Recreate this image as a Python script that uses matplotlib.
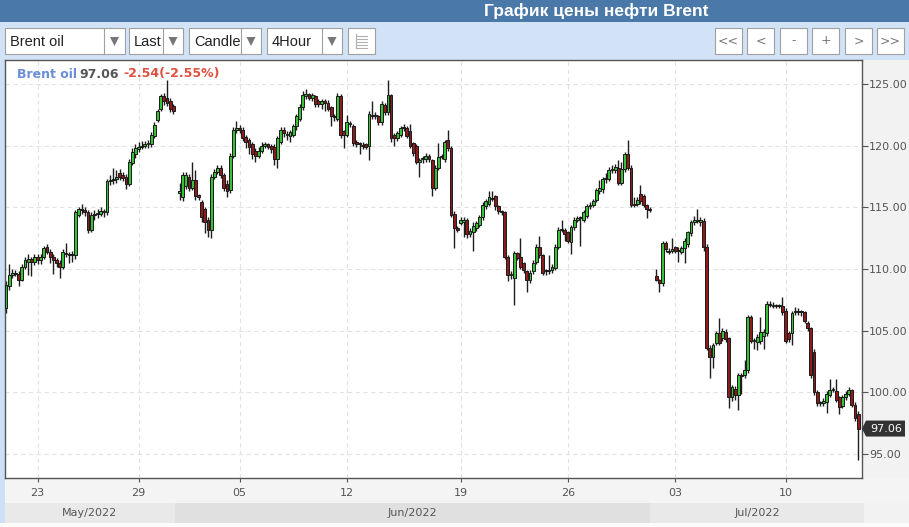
import numpy as np
import matplotlib
matplotlib.use("Agg")
import matplotlib.pyplot as plt
from matplotlib.patches import Rectangle, Polygon

W, H = 909, 527
nan = float('nan')

# ---------------- data (4-hour candles, Brent oil) ----------------
# part 1: 20 May - 31 May
p1_open = [106.8,108.6,109.5,109.7,109.6,109.1,110.2,110.6,110.8,110.6,111.0,110.7,111.0,111.8,111.4,111.0,110.7,110.5,
           110.2,111.3,111.2,111.1,111.1,114.4,114.8,114.8,114.6,113.2,114.4,114.5,114.5,114.6,114.6,117.1,117.2,117.3,
           117.8,117.6,117.5,116.9,118.6,119.3,119.7,119.9,120.0,120.1,120.1,120.8,122.1,123.0,124.0,123.9,123.6,123.2]
p1_high = [109.0,110.4,110.0,109.9,109.8,110.4,111.0,111.2,111.0,111.2,111.2,111.2,111.9,112.0,111.6,111.2,110.9,110.7,
           111.6,112.1,111.4,111.5,114.8,115.0,115.3,115.0,114.8,114.6,114.8,114.9,115.0,114.9,117.3,117.6,118.2,118.0,
           118.1,117.9,117.7,118.9,119.8,120.1,120.3,120.4,120.4,120.5,121.1,121.9,123.0,124.2,124.3,125.3,123.9,123.4]
p1_low = [106.4,108.3,109.3,109.4,108.6,109.0,110.0,109.5,109.4,110.3,110.4,110.4,110.8,111.2,110.5,109.6,110.2,109.3,
          110.0,111.0,110.5,110.6,110.8,114.2,114.5,114.3,112.9,113.0,114.0,114.1,114.3,114.2,114.4,116.8,116.9,117.0,
          117.2,117.1,116.5,116.7,118.4,119.0,119.5,119.7,119.8,119.8,119.9,120.6,121.9,122.8,123.3,123.2,122.7,122.6]
p1_close = [108.7,109.5,109.7,109.6,109.1,110.2,110.7,110.8,110.6,111.0,110.7,111.0,111.7,111.4,111.0,110.7,110.5,110.2,
            111.4,111.2,111.1,111.2,114.6,114.9,114.8,114.6,113.2,114.4,114.5,114.5,114.7,114.6,117.1,117.2,117.3,117.5,
            117.5,117.4,116.9,118.7,119.5,119.8,119.9,120.0,120.1,120.1,120.9,121.7,122.8,124.0,123.6,123.5,123.0,122.8]

# part 2: 1 Jun - 1 Jul
p2_open = [116.2,115.8,116.7,117.5,116.6,117.2,116.0,115.4,114.9,114.0,113.2,117.5,117.9,118.2,117.6,116.9,116.4,119.2,
           121.3,121.4,121.3,120.7,120.5,120.1,119.6,119.2,119.6,120.0,120.1,120.0,119.9,118.9,120.3,121.3,120.9,120.8,
           120.9,121.6,122.2,123.1,124.0,124.2,123.9,124.0,123.6,123.4,123.6,123.5,123.1,122.4,122.2,124.0,121.2,120.9,
           121.8,121.6,120.3,120.1,120.0,120.1,120.0,122.4,122.5,122.4,121.9,123.3,122.7,124.1,120.9,120.6,120.9,121.4,
           121.4,121.2,120.2,120.0,118.7,118.9,118.9,119.2,118.8,116.6,118.2,119.1,118.9,120.5,119.8,114.5,113.3,113.7,
           113.8,114.0,112.8,113.0,113.3,113.6,114.2,115.1,115.3,115.7,115.9,115.1,114.7,114.6,111.0,109.5,109.3,111.3,
           111.0,110.5,109.8,109.1,109.8,110.6,111.8,111.1,109.8,109.8,109.9,110.1,111.8,113.2,113.2,113.0,112.2,113.4,
           114.0,114.1,114.0,114.3,115.1,115.2,115.6,116.3,116.5,117.3,117.3,118.0,118.0,118.2,117.0,118.1,119.3,118.2,
           115.2,115.3,116.1,115.9,115.2,114.9]
p2_high = [117.0,117.9,117.9,117.7,118.7,118.0,116.1,115.6,115.0,114.2,117.7,118.1,118.4,118.4,117.8,117.2,119.4,121.5,
           122.0,121.7,121.5,120.9,120.6,120.3,119.8,119.9,120.3,120.3,120.2,120.1,120.1,120.8,121.5,121.5,121.2,121.3,
           121.8,122.6,123.4,124.4,124.6,124.3,124.3,124.1,123.8,123.8,123.8,123.7,123.2,122.6,124.3,124.2,121.3,122.5,
           122.0,121.8,120.5,120.3,120.3,120.2,122.8,123.6,122.7,122.5,123.6,123.5,125.3,124.2,121.0,121.2,121.6,121.8,
           121.6,121.8,120.3,120.1,119.0,119.2,119.4,119.3,118.9,118.4,120.2,119.3,120.5,121.3,120.0,114.7,113.5,114.2,
           114.2,114.1,113.3,113.8,113.9,114.4,115.4,115.7,116.3,116.3,116.0,115.2,114.8,114.7,111.1,109.8,111.5,111.4,
           112.5,110.6,109.9,109.9,110.7,112.0,112.7,111.2,110.0,111.1,110.4,112.0,113.4,114.0,113.3,113.1,113.6,114.2,
           114.3,114.3,114.8,115.3,115.4,115.7,116.6,117.2,117.5,117.8,118.3,118.4,118.5,118.8,118.7,119.5,120.5,118.4,
           115.8,115.8,116.8,116.1,115.3,115.0]
p2_low = [115.6,115.5,116.5,116.3,116.4,115.6,115.6,113.8,112.9,112.6,112.5,117.3,117.7,117.4,116.3,115.8,116.2,119.0,
          121.0,121.0,120.4,119.8,119.3,118.9,118.7,119.0,119.4,119.8,119.7,119.4,118.4,118.2,120.1,120.7,120.5,120.3,
          120.7,121.3,122.0,122.9,123.8,123.7,123.6,123.1,123.1,123.0,122.8,122.8,121.6,122.0,122.0,120.6,119.8,120.7,
          121.5,120.0,119.9,119.3,119.7,119.7,118.8,122.2,122.2,121.7,121.7,122.5,122.5,120.3,120.0,120.4,120.7,121.2,
          120.6,119.8,119.2,118.5,117.5,118.6,118.7,118.7,115.9,116.4,118.0,118.9,118.7,119.6,114.2,111.7,113.0,113.6,
          112.6,112.5,112.6,111.5,113.1,113.4,114.0,114.9,115.1,115.5,114.8,114.5,114.4,110.8,109.0,109.2,107.1,110.7,
          110.0,109.7,108.1,108.9,109.6,110.4,110.9,109.5,109.5,109.6,109.7,109.9,111.6,113.0,112.3,112.1,111.2,113.2,
          113.8,111.9,113.8,114.1,114.9,115.0,115.4,116.1,116.2,117.0,117.1,117.8,117.8,116.8,116.8,117.9,118.0,115.0,
          115.0,115.1,115.3,115.0,114.1,114.6]
p2_close = [116.3,117.6,117.6,116.6,117.2,115.9,115.8,114.2,113.8,113.2,117.5,117.9,118.2,117.6,116.6,116.3,119.2,121.3,
            121.4,121.3,120.6,120.3,119.9,119.3,119.2,119.6,120.0,120.1,119.9,119.7,118.9,120.6,121.3,121.0,120.9,121.1,
            121.6,122.4,123.1,124.1,124.2,123.9,124.1,123.4,123.4,123.6,123.5,123.0,122.4,122.3,124.0,120.9,120.9,121.9,
            121.8,120.2,120.1,120.1,120.0,119.9,122.6,122.5,122.4,121.9,123.4,122.7,124.1,120.6,120.6,121.0,121.4,121.4,
            120.8,120.0,119.4,118.7,118.8,119.0,119.2,118.9,116.6,118.2,119.1,119.1,120.3,119.8,114.4,113.3,113.2,114.0,
            114.0,112.8,113.1,113.5,113.7,114.2,115.2,115.5,115.8,115.7,115.1,114.7,114.6,111.0,109.5,109.5,111.3,110.9,
            110.2,109.9,109.1,109.7,110.5,111.8,111.1,109.7,109.8,109.8,110.2,111.8,113.2,113.2,112.8,112.3,113.4,114.0,
            114.1,114.1,114.6,115.1,115.2,115.5,116.4,116.6,117.3,117.3,118.0,118.1,118.3,117.0,118.1,119.3,118.2,115.2,
            115.3,115.6,115.5,115.2,114.9,114.8]

# part 3: 4 Jul - 15 Jul
p3_open = [109.4,109.1,108.9,112.1,111.5,111.5,111.8,111.5,111.4,111.7,112.0,112.9,113.8,114.0,113.8,113.9,111.8,103.6,
           102.9,104.0,104.8,104.4,104.9,104.4,99.6,100.3,99.8,101.4,101.4,101.8,106.1,104.2,104.1,104.2,104.6,104.8,
           107.2,107.1,107.0,107.0,107.0,106.6,104.8,104.8,106.5,106.6,106.5,106.5,105.6,105.2,103.3,100.0,99.1,99.1,
           99.2,99.8,100.2,100.1,99.6,98.9,99.6,99.9,100.2,99.0,98.2]
p3_high = [110.0,109.2,112.3,112.3,111.7,112.5,111.9,111.8,111.9,112.5,113.1,114.0,114.3,114.9,114.2,114.1,112.0,103.8,
           104.0,105.0,106.0,105.2,105.1,104.5,100.6,100.5,101.6,101.6,102.6,106.3,106.3,104.4,104.7,106.1,105.1,107.4,
           107.4,107.3,107.2,107.2,107.7,106.8,105.0,106.6,106.9,106.8,106.7,106.6,105.8,105.3,103.5,100.2,99.3,99.5,
           100.1,101.1,100.4,101.1,99.7,99.8,100.1,100.4,100.3,99.2,98.5]
p3_low = [109.0,108.1,108.6,111.4,111.2,111.3,111.3,110.6,111.2,110.5,111.8,112.7,113.6,113.7,113.5,111.5,103.4,101.2,
          102.0,103.8,103.8,104.2,104.1,98.7,99.3,99.4,98.6,99.9,101.2,101.6,104.0,103.5,103.4,103.9,103.5,104.6,
          106.9,106.8,106.8,106.8,106.3,104.0,104.1,103.8,106.3,106.3,106.2,105.6,105.0,101.2,99.8,98.9,98.9,98.9,
          98.3,99.6,100.0,99.2,98.2,98.7,99.4,99.7,98.8,97.7,94.5]
p3_close = [109.1,108.9,112.1,111.6,111.4,111.6,111.5,111.5,111.7,112.3,113.0,113.8,114.0,113.9,114.0,111.8,103.6,102.9,
            103.8,104.8,104.0,105.0,104.3,99.6,100.4,99.8,101.4,101.3,101.8,106.1,104.2,104.2,104.5,104.9,104.9,107.2,
            107.1,107.0,107.0,107.0,106.5,104.2,104.3,106.4,106.6,106.5,106.5,105.8,105.2,101.4,100.0,99.1,99.1,99.3,
            99.9,100.2,100.2,99.4,98.8,99.6,99.9,100.2,99.0,97.9,97.06]

# candle slots with no data (market breaks) sit between the parts
opens = p1_open + [nan] + p2_open + [nan] + p3_open
highs = p1_high + [nan] + p2_high + [nan] + p3_high
lows = p1_low + [nan] + p2_low + [nan] + p3_low
closes = p1_close + [nan] + p2_close + [nan] + p3_close

day_ticks = [10, 42, 74, 108, 144, 178, 212, 247]
day_labels = ['23', '29', '05', '12', '19', '26', '03', '10']
months = ['May/2022', 'Jun/2022', 'Jul/2022']
month_edges = [-0.3, 53.5, 204.0, 271.8]
price_ticks = [95, 100, 105, 110, 115, 120, 125]
last_price = 97.06
change = -2.54
change_pct = -2.55

# ---------------- figure ----------------
fig = plt.figure(figsize=(W / 100, H / 100), dpi=100)
fig.patch.set_facecolor('#f2f2f2')


def fx(x):
    return x / W


def fy(y):
    return 1 - y / H


def prect(x0, y0, x1, y1, z=-5, **kw):
    r = Rectangle((fx(x0), fy(y1)), (x1 - x0) / W, (y1 - y0) / H,
                  transform=fig.transFigure, zorder=z, **kw)
    fig.add_artist(r)
    return r


# backgrounds
prect(0, 0, W, 22, facecolor='#4a78a8', edgecolor='none')
prect(0, 22, W, 60, facecolor='#d2e3f7', edgecolor='none')
prect(0, 60, 5, 523, facecolor='#cde0f5', edgecolor='none')
prect(5, 478, W, 503, facecolor='#f4f4f4', edgecolor='none')
prect(0, 523, W, H, facecolor='#fbfbfb', edgecolor='none')

fig.text(fx(596), fy(11), 'График цены нефти Brent', color='white', fontsize=12.5,
         fontweight='bold', family='Liberation Sans', ha='center', va='center')

# toolbar dropdowns
dropdowns = [('Brent oil', 5, 104, 125), ('Last', 129, 163, 183), ('Candle', 189, 241, 261), ('4Hour', 267, 322, 342)]
for label, x0, xd, x1 in dropdowns:
    prect(x0, 28, x1, 54, z=2, facecolor='white', edgecolor='#a0a0a0', lw=0.8)
    fig.add_artist(plt.Line2D([fx(xd), fx(xd)], [fy(28), fy(54)], transform=fig.transFigure,
                              color='#a0a0a0', lw=0.8, zorder=3))
    fig.text(fx(x0 + 5), fy(41.5), label, fontsize=10.5, family='Liberation Sans',
             color='#222222', ha='left', va='center', zorder=4)
    ax_ = (xd + x1) / 2
    fig.add_artist(Polygon([[fx(ax_ - 4.5), fy(37)], [fx(ax_ + 4.5), fy(37)], [fx(ax_), fy(46)]],
                           closed=True, transform=fig.transFigure, facecolor='#777777',
                           edgecolor='none', zorder=4))
prect(348, 28, 375, 54, z=2, facecolor='white', edgecolor='#a0a0a0', lw=0.8)
for yy in (36, 39, 42, 45, 48):
    fig.add_artist(plt.Line2D([fx(356), fx(367)], [fy(yy), fy(yy)], transform=fig.transFigure,
                              color='#b0b0b0', lw=0.8, zorder=3))
fig.add_artist(plt.Line2D([fx(356), fx(356)], [fy(34), fy(48)], transform=fig.transFigure,
                          color='#b0b0b0', lw=0.8, zorder=3))

buttons = [('<<', 715, 742), ('<', 747, 774), ('-', 780, 807), ('+', 812, 839), ('>', 845, 872), ('>>', 877, 904)]
for lab, x0, x1 in buttons:
    prect(x0, 28, x1, 54, z=2, facecolor='white', edgecolor='#a0a0a0', lw=0.8)
    fig.text(fx((x0 + x1) / 2), fy(41), lab, fontsize=9, color='#777777', ha='center', va='center', zorder=4)

# chart axes
ax = fig.add_axes([fx(5), fy(478), 857 / W, 418 / H])
ax.set_facecolor('white')
ax.set_xlim(-0.32, 271.2)
ax.set_ylim(93.05, 126.95)

green = '#38c038'
red = '#8e1b1b'
for i, (o, h, l, c) in enumerate(zip(opens, highs, lows, closes)):
    if np.isnan(o):
        continue
    ax.vlines(i, l, h, color='#1e1e1e', lw=1.0, zorder=2)
    lo, hi = min(o, c), max(o, c)
    col = green if c >= o else red
    ax.add_patch(Rectangle((i - 0.45, lo), 0.9, max(hi - lo, 0.08), facecolor=col,
                           edgecolor='#1a1a1a', lw=0.7, zorder=3))

ax.yaxis.tick_right()
ax.set_yticks(price_ticks)
ax.set_yticklabels([f'{p:.2f}' for p in price_ticks])
ax.set_xticks(day_ticks)
ax.set_xticklabels(day_labels)
ax.tick_params(axis='y', direction='out', length=4, color='#555555', labelsize=8,
               labelcolor='#555555', pad=1)
ax.tick_params(axis='x', direction='out', length=3, color='#555555', labelsize=8,
               labelcolor='#555555', pad=4)
ax.grid(True, color='#e2e2e2', lw=0.8, ls=(0, (4, 3)))
ax.set_axisbelow(True)
for s in ax.spines.values():
    s.set_color('#555555')
    s.set_linewidth(1)

# legend line
fig.text(fx(17), fy(74), 'Brent oil', color='#6a8fd8', fontsize=9, fontweight='bold', ha='left', va='center')
fig.text(fx(79), fy(74), f'{last_price:.2f}', color='#555555', fontsize=9, fontweight='bold', ha='left', va='center')
fig.text(fx(123), fy(74), f'{change:.2f}({change_pct:.2f}%)', color='#e05040', fontsize=9,
         fontweight='bold', ha='left', va='center')

# last price tag
ty_px = H - ax.transData.transform((0, last_price))[1]
fig.add_artist(Polygon([[fx(862), fy(ty_px)], [fx(866), fy(ty_px - 8)], [fx(905), fy(ty_px - 8)],
                        [fx(905), fy(ty_px + 8)], [fx(866), fy(ty_px + 8)]], closed=True,
                       transform=fig.transFigure, facecolor='#333333', edgecolor='none', zorder=4))
fig.text(fx(886), fy(ty_px), f'{last_price:.2f}', color='white', fontsize=8, ha='center', va='center', zorder=5)

# month band
for k, m in enumerate(months):
    x0 = ax.transData.transform((month_edges[k], 0))[0]
    x1 = ax.transData.transform((month_edges[k + 1], 0))[0]
    col = '#e0e0e0' if k == 1 else '#e9e9e9'
    prect(x0, 503, x1, 523, z=-4, facecolor=col, edgecolor='none')
    fig.text(fx((x0 + x1) / 2), fy(513), m, fontsize=8, color='#555555', ha='center', va='center')

fig.savefig('out.png', dpi=100, facecolor=fig.get_facecolor())
